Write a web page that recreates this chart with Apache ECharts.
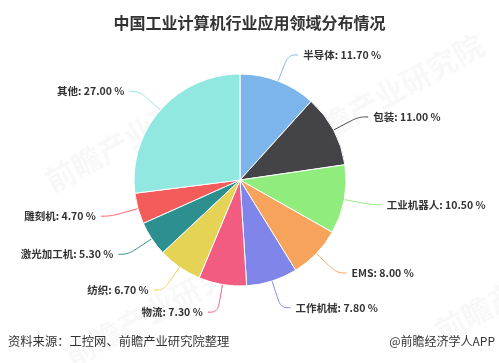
<!DOCTYPE html>
<html><head><meta charset="utf-8">
<script src="https://cdn.jsdelivr.net/npm/echarts@6/dist/echarts.min.js"></script>
<style>html,body{margin:0;padding:0;background:#fff}#c{width:499px;height:363px}</style>
</head><body><div id="c"></div>
<script>
const titleText = '中国工业计算机行业应用领域分布情况';
const categories = ['半导体','包装','工业机器人','EMS','工作机械','物流','纺织','激光加工机','雕刻机','其他'];
const values = [11.70, 11.00, 10.50, 8.00, 7.80, 7.30, 6.70, 5.30, 4.70, 27.00];
const colors = ['#7cb5ec','#434348','#90ed7d','#f7a35c','#8085e9','#f15c80','#e4d354','#2b908f','#f45b5b','#91e8e1'];
const sourceText = '资料来源：工控网、前瞻产业研究院整理';
const brandText = '@前瞻经济学人APP';

const font = '"Noto Sans CJK SC", "Noto Sans", sans-serif';
const chart = echarts.init(document.getElementById('c'), null, {renderer:'canvas'});
const wm = [];
[[40,170],[290,130],[60,345],[430,320]].forEach(p=>{
  wm.push({type:'text', x:p[0], y:p[1], rotation:0.5, silent:true, z:-1,
    style:{text:'前瞻产业研究院', fill:'rgba(170,170,170,0.08)', font:'bold 30px '+font}});
});
chart.setOption({
  animation:false,
  color: colors,
  title:{text:titleText, left:'center', top:10,
    textStyle:{fontSize:16, fontWeight:'bold', color:'#333', fontFamily:font}},
  graphic: wm.concat([
    {type:'text', left:8, top:335, style:{text:sourceText, fill:'#333', font:'12.3px '+font}},
    {type:'text', right:4, top:335, style:{text:brandText, fill:'#333', font:'12px '+font}}
  ]),
  series:[{
    type:'pie',
    center:[240,180],
    radius:[0,106],
    startAngle:90,
    clockwise:true,
    data: categories.map((n,i)=>({name:n, value:values[i]})),
    itemStyle:{borderColor:'#fff', borderWidth:1},
    label:{
      formatter: p => p.name + ': ' + p.value.toFixed(2) + ' %',
      color:'#333', fontSize:10.5, fontWeight:'bold', fontFamily:font
    },
    labelLine:{length:28, length2:10, smooth:0.4, lineStyle:{width:1}}
  }]
});
</script></body></html>
